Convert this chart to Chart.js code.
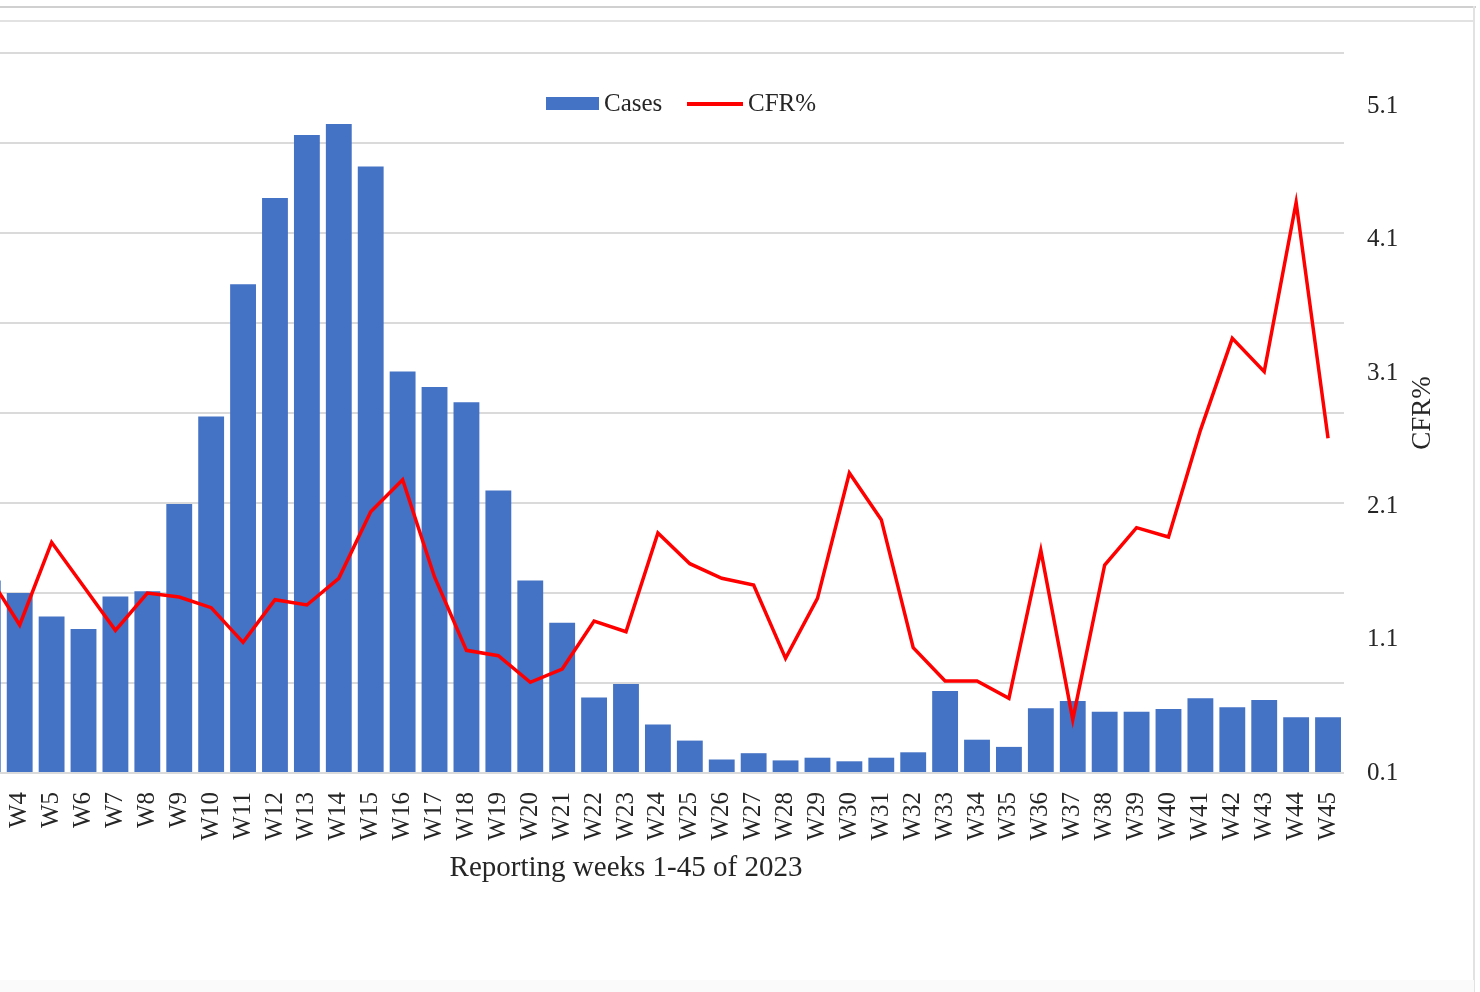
<!DOCTYPE html>
<html>
<head>
<meta charset="utf-8">
<script src="https://cdn.jsdelivr.net/npm/chart.js@4.4.1/dist/chart.umd.min.js"></script>
<style>
  html, body { margin: 0; padding: 0; width: 1480px; height: 992px; overflow: hidden; background: #ffffff; }
  #wrap { position: absolute; left: -120px; top: 0; width: 1600px; height: 992px; }
  .frame { position: absolute; background: #d6d6d6; }
  .leg { position: absolute; font-family: "Liberation Serif", serif; font-size: 25px; line-height: 30px; color: #262626; white-space: nowrap; }
</style>
</head>
<body>
<div id="wrap"><canvas id="c" width="1600" height="992" style="width:1600px;height:992px;"></canvas></div>
<div class="frame" style="left:0;top:6px;width:1476px;height:2px;background:#d0d0d0;"></div>
<div class="frame" style="left:0;top:20px;width:1474px;height:2px;background:#e2e2e2;"></div>
<div class="frame" style="left:1473px;top:6px;width:2px;height:986px;background:#e2e2e2;"></div>
<div class="frame" style="left:0;top:980px;width:1474px;height:12px;background:#fafafa;"></div>
<div class="leg" style="left:546px;top:97px;width:53px;height:13px;background:#4472C4;"></div>
<div class="leg" style="left:604px;top:88px;">Cases</div>
<div class="leg" style="left:687px;top:102px;width:56px;height:4px;background:#ff0000;"></div>
<div class="leg" style="left:748px;top:88px;">CFR%</div>
<script>
const weeks = ['W1','W2','W3','W4','W5','W6','W7','W8','W9','W10','W11','W12','W13','W14','W15',
  'W16','W17','W18','W19','W20','W21','W22','W23','W24','W25','W26','W27','W28','W29','W30',
  'W31','W32','W33','W34','W35','W36','W37','W38','W39','W40','W41','W42','W43','W44','W45'];
const cases = [190, 205, 214, 200, 174, 160, 196, 202, 299, 396, 543, 639, 709, 721, 674,
  446, 429, 412, 314, 214, 167, 84, 99, 54, 36, 15, 22, 14, 17, 13,
  17, 23, 91, 37, 29, 72, 80, 68, 68, 71, 83, 73, 81, 62, 62];
const cfr = [1.5, 1.4, 1.59, 1.21, 1.83, 1.50, 1.17, 1.45, 1.42, 1.34, 1.08, 1.40, 1.36, 1.56, 2.06,
  2.30, 1.57, 1.02, 0.98, 0.78, 0.88, 1.24, 1.16, 1.90, 1.67, 1.56, 1.51, 0.96, 1.41, 2.35,
  2.00, 1.04, 0.79, 0.79, 0.66, 1.77, 0.50, 1.66, 1.94, 1.87, 2.67, 3.36, 3.11, 4.38, 2.61];
const cfrTicks = [0.1, 1.1, 2.1, 3.1, 4.1, 5.1];
const xTitle = 'Reporting weeks 1-45 of 2023';
const y1Title = 'CFR%';

const textColor = '#262626';
const serif = 'Liberation Serif';

const rightTitlePlugin = {
  id: 'rightTitle',
  afterDraw(chart) {
    const s = chart.scales.y1;
    const ctx = chart.ctx;
    ctx.save();
    ctx.translate(s.left + 79, (chart.chartArea.top + chart.chartArea.bottom) / 2);
    ctx.rotate(-Math.PI / 2);
    ctx.font = '27px "' + serif + '"';
    ctx.fillStyle = textColor;
    ctx.textAlign = 'center';
    ctx.textBaseline = 'middle';
    ctx.fillText(y1Title, 0, 0);
    ctx.restore();
  }
};

new Chart(document.getElementById('c'), {
  data: {
    labels: weeks,
    datasets: [
      {
        type: 'line',
        label: 'CFR%',
        data: cfr,
        yAxisID: 'y1',
        borderColor: '#ff0000',
        backgroundColor: '#ff0000',
        borderWidth: 3.5,
        pointRadius: 0,
        tension: 0,
        order: 0
      },
      {
        type: 'bar',
        label: 'Cases',
        data: cases,
        yAxisID: 'y',
        backgroundColor: '#4472C4',
        borderWidth: 0,
        barPercentage: 0.81,
        categoryPercentage: 1.0,
        order: 1
      }
    ]
  },
  options: {
    responsive: false,
    animation: false,
    devicePixelRatio: 1,
    layout: { padding: { top: 53, bottom: 102, left: 0, right: 0 } },
    plugins: {
      legend: { display: false },
      tooltip: { enabled: false }
    },
    scales: {
      x: {
        offset: true,
        grid: { display: false, drawTicks: false },
        border: { display: false },
        ticks: {
          autoSkip: false,
          maxRotation: 90,
          minRotation: 90,
          padding: 19,
          color: textColor,
          font: { family: serif, size: 25 }
        },
        title: {
          display: true,
          text: xTitle,
          color: textColor,
          font: { family: serif, size: 29 },
          padding: { top: 4, bottom: 4 }
        },
        afterFit(scale) { scale.height = 117; }
      },
      y: {
        position: 'left',
        min: 0,
        max: 800,
        ticks: { stepSize: 100, display: false },
        grid: { color: '#dadada', lineWidth: 2, drawTicks: false },
        border: { display: false },
        afterFit(scale) { scale.width = 28; }
      },
      y1: {
        position: 'right',
        min: 0.1,
        max: 5.5,
        grid: { display: false, drawTicks: false },
        border: { display: false },
        ticks: {
          padding: 23,
          color: textColor,
          font: { family: serif, size: 25 },
          callback: (v) => Number(v).toFixed(1)
        },
        afterBuildTicks(scale) { scale.ticks = cfrTicks.map(v => ({ value: v })); },
        afterFit(scale) { scale.width = 136; }
      }
    }
  },
  plugins: [rightTitlePlugin]
});
</script>
</body>
</html>
